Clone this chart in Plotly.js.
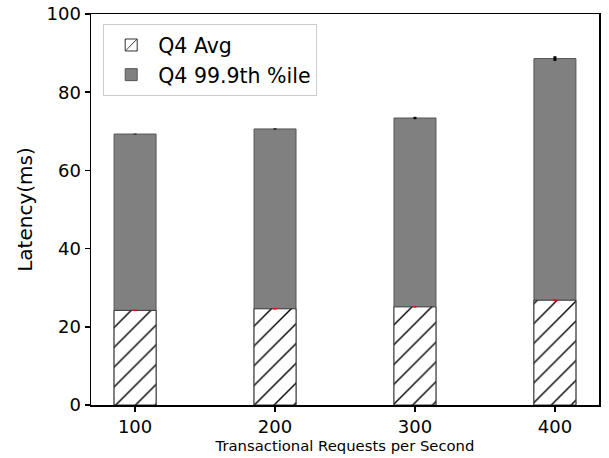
<!DOCTYPE html>
<html>
<head>
<meta charset="utf-8">
<script src="https://cdn.plot.ly/plotly-3.0.1.min.js"></script>
<style>html,body{margin:0;padding:0;background:#fff;}#chart{width:609px;height:458px;}</style>
</head>
<body>
<div id="chart"></div>
<script>
const rps = [100, 200, 300, 400];
const avgLatency = [24.2, 24.6, 25.1, 26.8];
const avgErr = [0.2, 0.2, 0.2, 0.2];
const p999Latency = [69.3, 70.6, 73.4, 88.6];
const p999Err = [0.1, 0.15, 0.3, 0.6];

const p999Trace = {
  type: 'bar', x: rps, y: p999Latency, width: 30, name: 'Q4 99.9th %ile',
  legendgroup: 'b',
  marker: {color: '#808080', line: {color: '#555555', width: 1}},
  error_y: {type: 'data', array: p999Err, visible: true, color: '#000000', thickness: 3, width: 0},
  legendrank: 2
};
const avgTrace = {
  type: 'bar', x: rps, y: avgLatency, width: 30, name: 'Q4 Avg',
  legendgroup: 'a',
  marker: {color: '#ffffff', line: {color: '#333333', width: 1},
           pattern: {shape: '/', fgcolor: '#000000', bgcolor: '#ffffff', size: 14, solidity: 0.1}},
  error_y: {type: 'data', array: avgErr, visible: true, color: '#ff0000', thickness: 3, width: 0},
  legendrank: 1
};

const layout = {
  width: 609, height: 458,
  margin: {l: 91, r: 10, t: 14, b: 53},
  paper_bgcolor: '#fff', plot_bgcolor: '#fff',
  barmode: 'overlay',
  font: {family: 'DejaVu Sans', color: '#000'},
  showlegend: true,
  legend: {x: 0.024, y: 0.974, xanchor: 'left', yanchor: 'top',
           bordercolor: '#cccccc', borderwidth: 1, bgcolor: '#fff',
           itemwidth: 44, tracegroupgap: 0,
           font: {size: 20.5, family: 'DejaVu Sans'}},
  xaxis: {range: [68.5, 431.5], tickvals: rps, ticktext: rps.map(String),
          showline: true, linecolor: '#000', linewidth: 1.5, mirror: true,
          ticks: 'outside', ticklen: 5, tickwidth: 1.5, tickcolor: '#000',
          showgrid: false, zeroline: false, tickfont: {size: 18},
          title: {text: 'Transactional Requests per Second', font: {size: 14.8}, standoff: 4}},
  yaxis: {range: [0, 100], tickvals: [0, 20, 40, 60, 80, 100],
          showline: true, linecolor: '#000', linewidth: 1.5, mirror: true,
          ticks: 'outside', ticklen: 5, tickwidth: 1.5, tickcolor: '#000',
          showgrid: false, zeroline: false, tickfont: {size: 18},
          title: {text: 'Latency(ms)', font: {size: 20}, standoff: 8}}
};

Plotly.newPlot('chart', [p999Trace, avgTrace], layout, {displayModeBar: false, staticPlot: true});
</script>
</body>
</html>
